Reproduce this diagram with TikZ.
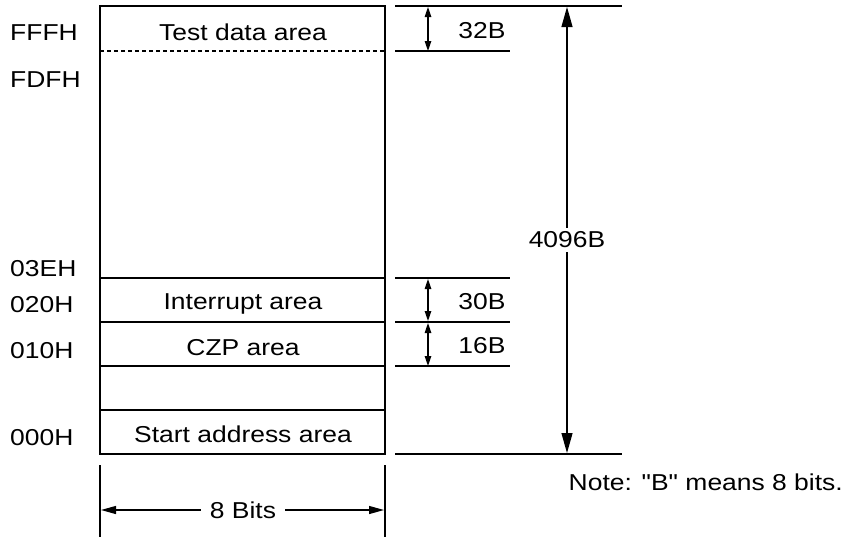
\documentclass[tikz,border=0pt]{standalone}
\usepackage{fontspec}
\setmainfont[FakeStretch=1.15,Ligatures=TeXOff]{Liberation Sans}
\usetikzlibrary{arrows.meta}
\begin{document}
\begin{tikzpicture}[x=1pt,y=-1pt,
  every node/.style={font=\fontsize{23}{27}\selectfont, inner sep=0pt},
  ln/.style={line width=1.2pt},
  small/.style={ln,{Triangle[length=10pt,width=6.5pt]}-{Triangle[length=10pt,width=6.5pt]}},
  bighead/.style={ln,-{Triangle[length=20pt,width=11pt]}},
  bitshead/.style={ln,-{Triangle[length=15pt,width=8pt]}},
  addr/.style={anchor=west}]
\useasboundingbox (0,0) rectangle (847,539);
% memory box
\draw[ln] (100,6) rectangle (385,454);
\draw[ln,dash pattern=on 4pt off 3pt] (100,51) -- (385,51);
\foreach \y in {278,322,366,410} \draw[ln] (100,\y) -- (385,\y);
\node (tda) at (243,32) {Test data area};
\node (ia) at (243,304) {Interrupt area};
\node (czp) at (243,348) {CZP area};
\node (saa) at (243,434) {Start address area};
% addresses
\node[addr] (a1) at (10,33) {FFFH};
\node[addr] (a2) at (10,80) {FDFH};
\node[addr] (a3) at (10,269) {03EH};
\node[addr] (a4) at (10,305) {020H};
\node[addr] (a5) at (10,351) {010H};
\node[addr] (a6) at (10,438) {000H};
% right dimension lines
\coordinate (t0) at (395,6);
\coordinate (t1) at (622,6);
\coordinate (b0) at (395,454);
\coordinate (b1) at (622,454);
\draw[ln] (t0) -- (t1);
\draw[ln] (b0) -- (b1);
\foreach \y in {51,278,322,366} \draw[ln] (395,\y) -- (510,\y);
\coordinate (s1a) at (428,7);
\coordinate (s1b) at (428,51);
\coordinate (s2a) at (428,279);
\coordinate (s2b) at (428,321);
\coordinate (s3a) at (428,323);
\coordinate (s3b) at (428,366);
\draw[small] (s1a) -- (s1b);
\draw[small] (s2a) -- (s2b);
\draw[small] (s3a) -- (s3b);
\node (l32) at (482,31) {32B};
\node (l30) at (482,302) {30B};
\node (l16) at (482,346) {16B};
\coordinate (ba) at (567,7);
\coordinate (bb) at (567,453);
\node[inner sep=4pt] (l4096) at (567,240) {4096B};
\draw[bighead] (l4096.north) -- (ba);
\draw[bighead] (l4096.south) -- (bb);
% bottom width
\draw[ln] (100,465) -- (100,537);
\draw[ln] (385,465) -- (385,537);
\coordinate (wl) at (101,510);
\coordinate (wr) at (384,510);
\node[inner xsep=9pt] (bitsl) at (243,510) {8 Bits};
\draw[bitshead] (bitsl.west) -- (wl);
\draw[bitshead] (bitsl.east) -- (wr);
\node[anchor=east] (note) at (843,482) {Note: "B" means 8 bits.};
\end{tikzpicture}
\end{document}
